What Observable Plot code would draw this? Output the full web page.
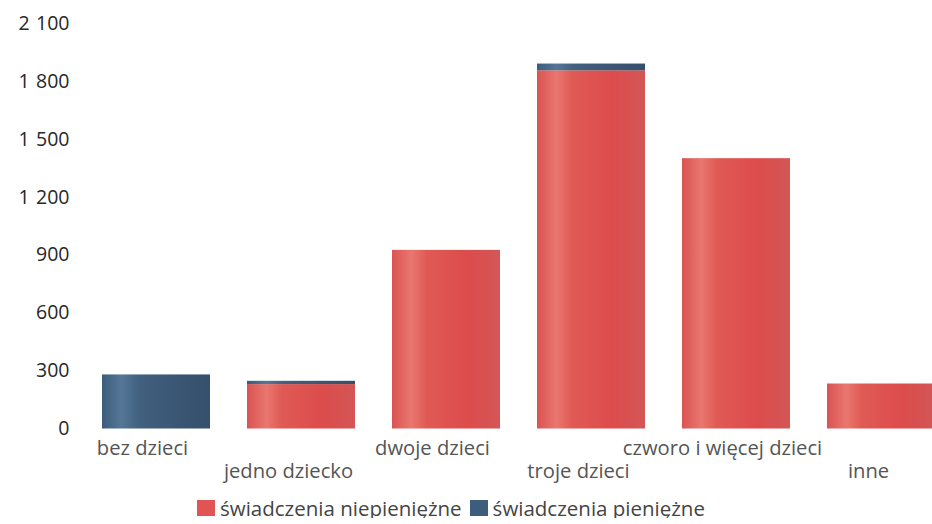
<!DOCTYPE html>
<html>
<head>
<meta charset="utf-8">
<script src="https://cdn.jsdelivr.net/npm/d3@7"></script>
<script src="https://cdn.jsdelivr.net/npm/@observablehq/plot@0.6"></script>
<style>
  html, body { margin: 0; padding: 0; background: #fff; overflow: hidden; }
  #chart { width: 932px; }
  .legend { display: flex; align-items: center; height: 20px; margin-top: 8px; padding-left: 197px; font-family: "Open Sans", sans-serif; font-size: 20.5px; color: #444; line-height: 20px; }
  .legend .item { display: flex; align-items: center; margin-right: 8px; }
  .legend .sw { width: 18px; height: 16px; margin-right: 5px; display: inline-block; }
</style>
</head>
<body>
<div id="chart"></div>
<div class="legend" id="legend"></div>
<script>
const categories = ["bez dzieci", "jedno dziecko", "dwoje dzieci", "troje dzieci", "czworo i więcej dzieci", "inne"];
const seriesNames = ["świadczenia niepieniężne", "świadczenia pieniężne"];
const niepieniezne = [0, 230, 925, 1855, 1400, 233];
const pieniezne = [280, 17, 0, 35, 0, 0];
const yTicks = [0, 300, 600, 900, 1200, 1500, 1800, 2100];
const colors = ["#e05454", "#3e5c7c"];

const data = [];
categories.forEach((c, i) => {
  data.push({cat: c, series: seriesNames[0], value: niepieniezne[i]});
  data.push({cat: c, series: seriesNames[1], value: pieniezne[i]});
});

const locale = d3.formatLocale({thousands: "\u2004", grouping: [3], decimal: ",", currency: ["", ""]});
const fmt = locale.format(",");

const evenCats = categories.filter((d, i) => i % 2 === 0);
const oddCats = categories.filter((d, i) => i % 2 === 1);

const plot = Plot.plot({
  width: 932,
  height: 490,
  marginTop: 23,
  marginBottom: 61.5,
  marginLeft: 70,
  marginRight: 0,
  style: {fontFamily: "'Open Sans', sans-serif", background: "transparent", overflow: "visible"},
  x: {domain: categories, range: [82, 955], paddingInner: 0.254, paddingOuter: 0.127, axis: null},
  y: {domain: [0, 2100], axis: null},
  color: {domain: seriesNames, range: ["url(#gradRed)", "url(#gradBlue)"]},
  marks: [
    Plot.axisY({ticks: yTicks, tickSize: 0, tickPadding: 1, tickFormat: fmt, fontSize: 19.5, fill: "#282828", label: null}),
    Plot.barY(data, {x: "cat", y: "value", fill: "series", order: seriesNames}),
    Plot.text(evenCats, {x: d => d, text: d => d, frameAnchor: "bottom", dy: 20, dx: -14, lineAnchor: "middle", fontSize: 20.2, fill: "#555"}),
    Plot.text(oddCats, {x: d => d, text: d => d, frameAnchor: "bottom", dy: 43, dx: -13, lineAnchor: "middle", fontSize: 20.2, fill: "#555"})
  ]
});

const ns = "http://www.w3.org/2000/svg";
const defs = document.createElementNS(ns, "defs");
function grad(id, stops) {
  const g = document.createElementNS(ns, "linearGradient");
  g.setAttribute("id", id);
  g.setAttribute("x1", "0"); g.setAttribute("x2", "1"); g.setAttribute("y1", "0"); g.setAttribute("y2", "0");
  stops.forEach(([o, c]) => {
    const s = document.createElementNS(ns, "stop");
    s.setAttribute("offset", o);
    s.setAttribute("stop-color", c);
    g.appendChild(s);
  });
  defs.appendChild(g);
}
grad("gradRed", [["0", "#da5352"], ["0.18", "#e9776f"], ["0.32", "#e05a55"], ["0.7", "#dc4c4c"], ["1", "#d35656"]]);
grad("gradBlue", [["0", "#3c5c7c"], ["0.18", "#557696"], ["0.34", "#41617f"], ["0.7", "#3a5674"], ["1", "#34506c"]]);
plot.insertBefore(defs, plot.firstChild);

document.getElementById("chart").appendChild(plot);

const legend = document.getElementById("legend");
seriesNames.forEach((name, i) => {
  const item = document.createElement("span");
  item.className = "item";
  const sw = document.createElement("span");
  sw.className = "sw";
  sw.style.background = colors[i];
  item.appendChild(sw);
  item.appendChild(document.createTextNode(name));
  legend.appendChild(item);
});
</script>
</body>
</html>
